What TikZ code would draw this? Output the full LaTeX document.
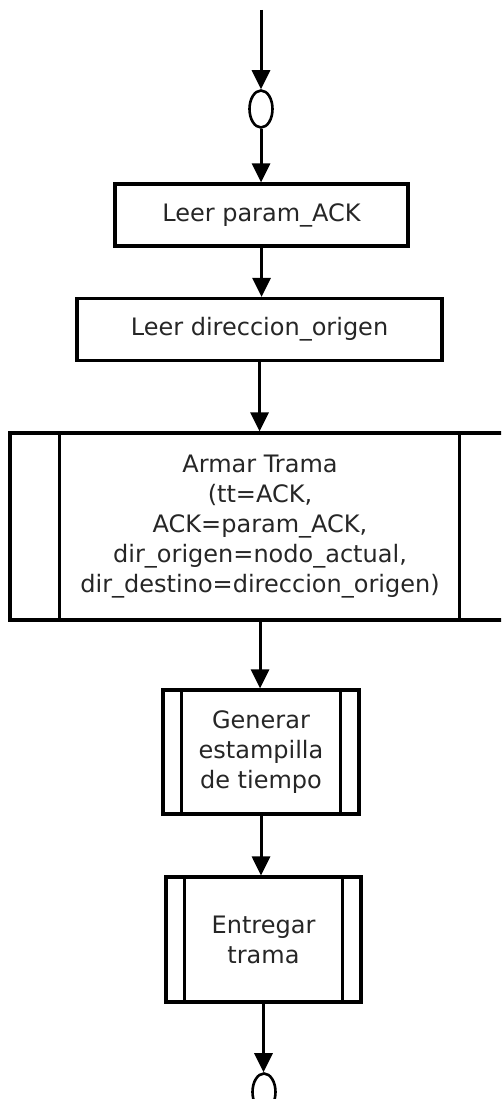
\documentclass[tikz,border=0pt]{standalone}
\usepackage{fontspec}
\setmainfont{DejaVu Sans}
\usetikzlibrary{arrows.meta,shapes.geometric}
\begin{document}
\begin{tikzpicture}[x=1pt,y=-1pt,
  flow/.style={line width=3pt,-{Triangle[length=19pt,width=18pt]}},
  box/.style={draw,line width=3.2pt,rectangle,inner sep=0pt,align=center,
    text=black!85,font=\fontsize{24}{30}\selectfont},
  bar/.style={line width=3.2pt},
  conn/.style={draw,line width=2.6pt,ellipse,inner sep=0pt,
    minimum width=23pt,minimum height=37pt}]
\clip (0,0) rectangle (501,1099);
\fill[white] (0,0) rectangle (501,1099);

% entry and exit connectors
\coordinate (start) at (261,10);
\node[conn] (c1) at (261,109) {};

% process steps
\node[box,minimum width=293pt,minimum height=62pt] (b1) at (261.5,215) {Leer param\_ACK};
\node[box,minimum width=365pt,minimum height=62pt] (b2) at (259.5,329.5) {Leer direccion\_origen};
\node[box,minimum width=500pt,minimum height=187pt] (b3) at (260,526.5)
  {Armar Trama\\(tt=ACK,\\ACK=param\_ACK,\\dir\_origen=nodo\_actual,\\dir\_destino=direccion\_origen)};
\node[box,minimum width=196pt,minimum height=124pt] (b4) at (261,752) {Generar\\estampilla\\de tiempo};
\node[box,minimum width=195pt,minimum height=125pt] (b5) at (263.5,939.5) {Entregar\\trama};

\node[conn] (c2) at (264,1092) {};

% predefined-process side bars
\draw[bar] ([xshift=51pt]b3.north west) -- ([xshift=51pt]b3.south west);
\draw[bar] ([xshift=-52pt]b3.north east) -- ([xshift=-52pt]b3.south east);
\draw[bar] ([xshift=20pt]b4.north west) -- ([xshift=20pt]b4.south west);
\draw[bar] ([xshift=-20pt]b4.north east) -- ([xshift=-20pt]b4.south east);
\draw[bar] ([xshift=20pt]b5.north west) -- ([xshift=20pt]b5.south west);
\draw[bar] ([xshift=-20pt]b5.north east) -- ([xshift=-20pt]b5.south east);

% flow, kept vertical below each source
\draw[flow] (start) -- (start |- c1.north);
\draw[flow] (c1.south) -- (c1.south |- b1.north);
\draw[flow] (b1.south) -- (b1.south |- b2.north);
\draw[flow] (b2.south) -- (b2.south |- b3.north);
\draw[flow] (b3.south) -- (b3.south |- b4.north);
\draw[flow] (b4.south) -- (b4.south |- b5.north);
\draw[flow] (b5.south) -- (b5.south |- c2.north);
\end{tikzpicture}
\end{document}
